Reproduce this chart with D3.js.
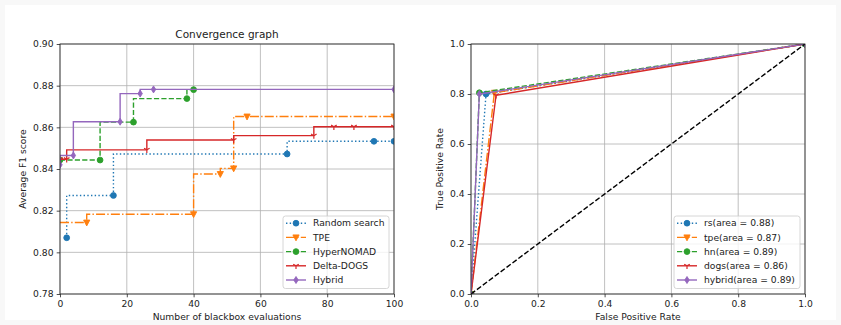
<!DOCTYPE html>
<html>
<head>
<meta charset="utf-8">
<script src="https://cdn.jsdelivr.net/npm/d3@7"></script>
<style>
  body { margin: 0; background: #f8f8f8; }
  svg { display: block; font-family: "DejaVu Sans", sans-serif; }
  .tick text { font-size: 9.2px; fill: #222; }
  .lbl { font-size: 9.2px; fill: #222; }
</style>
</head>
<body>
<div id="graf"></div>
<script>
// Convergence graph data (x = evaluations, y = average F1)
var rsX    = [2, 16, 68, 94, 100]
var rsY    = [0.807, 0.8273, 0.8472, 0.8533, 0.8533]
var tpeX   = [0, 8, 40, 48, 52, 56, 100]
var tpeY   = [0.8143, 0.8143, 0.8183, 0.8376, 0.8403, 0.8652, 0.8652]
var hnX    = [0, 12, 22, 38, 40]
var hnY    = [0.8443, 0.8443, 0.8625, 0.8738, 0.8781]
var dogsX  = [0, 2, 26, 52, 76, 82, 88, 100]
var dogsY  = [0.8447, 0.8447, 0.8492, 0.8539, 0.856, 0.8603, 0.8603, 0.8603]
var hybX   = [0, 4, 18, 24, 28, 100]
var hybY   = [0.8420, 0.8465, 0.8627, 0.8762, 0.8782, 0.8782]

// ROC data
var rocNames = ['rs', 'tpe', 'hn', 'dogs', 'hybrid']
var rocAreas = [0.88, 0.87, 0.89, 0.86, 0.89]
var rocFpr = [[0, 0.045, 1], [0, 0.07, 1], [0, 0.025, 1], [0, 0.075, 1], [0, 0.025, 1]]
var rocTpr = [[0, 0.80, 1], [0, 0.805, 1], [0, 0.805, 1], [0, 0.795, 1], [0, 0.80, 1]]

var convNames = ['Random search', 'TPE', 'HyperNOMAD', 'Delta-DOGS', 'Hybrid']
var convTicksX = [0, 20, 40, 60, 80, 100]
var convTicksY = [0.78, 0.80, 0.82, 0.84, 0.86, 0.88, 0.90]
var rocTicks = [0, 0.2, 0.4, 0.6, 0.8, 1.0]

// estilos de cada serie
var colores = ['#1f77b4', '#ff7f0e', '#2ca02c', '#d62728', '#9467bd']
var dashes  = ['1.4,2.3', '9,2.2,1.4,2.2', '5.2,2.2', null, null]
var marcas  = ['circle', 'tri', 'circle', 'y', 'diamond']

var series = [
  { x: rsX, y: rsY, markFirst: true },
  { x: tpeX, y: tpeY, markFirst: false },
  { x: hnX, y: hnY, markFirst: true },
  { x: dogsX, y: dogsY, markFirst: true },
  { x: hybX, y: hybY, markFirst: true }
]

var ancho_total = 841, alto_total = 325

var svg = d3.select('#graf').append('svg')
  .attr('width', ancho_total)
  .attr('height', alto_total)

svg.append('rect')
  .attr('x', 5).attr('y', 5)
  .attr('width', ancho_total - 10).attr('height', alto_total - 10)
  .attr('fill', 'white')

var defs = svg.append('defs')

function marker(g, tipo, cx, cy, color) {
  if (tipo === 'circle') {
    g.append('circle').attr('cx', cx).attr('cy', cy).attr('r', 2.9)
      .attr('fill', color).attr('stroke', color).attr('stroke-width', 0.9)
  } else if (tipo === 'tri') {
    var s = 3.1
    g.append('path')
      .attr('d', `M${cx - s},${cy - s * 0.8}L${cx + s},${cy - s * 0.8}L${cx},${cy + s * 1.1}Z`)
      .attr('fill', color).attr('stroke', color).attr('stroke-width', 0.9)
  } else if (tipo === 'y') {
    var r = 3.2
    g.append('path')
      .attr('d', `M${cx},${cy}L${cx},${cy + r}M${cx},${cy}L${cx - r * 0.87},${cy - r * 0.5}M${cx},${cy}L${cx + r * 0.87},${cy - r * 0.5}`)
      .attr('fill', 'none').attr('stroke', color).attr('stroke-width', 1.2)
  } else if (tipo === 'diamond') {
    g.append('path')
      .attr('d', `M${cx},${cy - 3.5}L${cx + 2.2},${cy}L${cx},${cy + 3.5}L${cx - 2.2},${cy}Z`)
      .attr('fill', color).attr('stroke', color).attr('stroke-width', 0.9)
  }
}

function ejes(id, x0, x1, y0, y1, x, y, ticksX, ticksY, fmtX, fmtY) {
  var g = svg.append('g')

  defs.append('clipPath').attr('id', id)
    .append('rect').attr('x', x0).attr('y', y0)
    .attr('width', x1 - x0).attr('height', y1 - y0)

  // grid
  g.selectAll('.gx').data(ticksX).enter().append('line')
    .attr('x1', d => x(d)).attr('x2', d => x(d))
    .attr('y1', y0).attr('y2', y1)
    .attr('stroke', '#b0b0b0').attr('stroke-width', 0.8)
  g.selectAll('.gy').data(ticksY).enter().append('line')
    .attr('x1', x0).attr('x2', x1)
    .attr('y1', d => y(d)).attr('y2', d => y(d))
    .attr('stroke', '#b0b0b0').attr('stroke-width', 0.8)

  var xAxis = svg.append('g')
    .attr('transform', `translate(0, ${y1})`)
    .call(d3.axisBottom(x).tickValues(ticksX).tickFormat(fmtX).tickSize(3.3).tickPadding(3.2))
  var yAxis = svg.append('g')
    .attr('transform', `translate(${x0}, 0)`)
    .call(d3.axisLeft(y).tickValues(ticksY).tickFormat(fmtY).tickSize(3.3).tickPadding(3.2))
  ;[xAxis, yAxis].forEach(a => {
    a.select('.domain').remove()
    a.selectAll('.tick line').attr('stroke', '#222').attr('stroke-width', 0.8)
    a.selectAll('text').attr('font-family', 'DejaVu Sans').attr('font-size', 9.2)
  })

  var plot = svg.append('g').attr('clip-path', `url(#${id})`)
  return plot
}

function marco(x0, x1, y0, y1) {
  svg.append('rect')
    .attr('x', x0).attr('y', y0)
    .attr('width', x1 - x0).attr('height', y1 - y0)
    .attr('fill', 'none').attr('stroke', '#222').attr('stroke-width', 0.8)
}

function leyenda(lx, ly, lw, nombres) {
  var lg = svg.append('g')
  lg.append('rect')
    .attr('x', lx).attr('y', ly).attr('width', lw).attr('height', 72.5)
    .attr('rx', 2.5)
    .attr('fill', 'white').attr('fill-opacity', 0.8)
    .attr('stroke', '#cccccc').attr('stroke-width', 0.8)
  nombres.forEach((n, i) => {
    var yy = ly + 7.2 + i * 14.2
    lg.append('line')
      .attr('x1', lx + 3).attr('x2', lx + 23)
      .attr('y1', yy).attr('y2', yy)
      .attr('stroke', colores[i]).attr('stroke-width', 1.4)
      .attr('stroke-dasharray', dashes[i])
    marker(lg, marcas[i], lx + 13, yy, colores[i])
    lg.append('text')
      .attr('class', 'lbl')
      .attr('x', lx + 30).attr('y', yy)
      .attr('dy', '0.35em')
      .text(n)
  })
}

// ---------- Convergence graph ----------
var L = { x0: 60, x1: 394, y0: 44, y1: 294 }
var x = d3.scaleLinear().domain([0, 100]).range([L.x0, L.x1])
var y = d3.scaleLinear().domain([0.78, 0.90]).range([L.y1, L.y0])

var plot1 = ejes('clipL', L.x0, L.x1, L.y0, L.y1, x, y, convTicksX, convTicksY,
  d3.format('d'), d3.format('.2f'))

var lineaStep = d3.line()
  .x(d => x(d[0]))
  .y(d => y(d[1]))
  .curve(d3.curveStepBefore)

series.forEach((s, i) => {
  var pts = s.x.map((v, j) => [v, s.y[j]])
  plot1.append('path')
    .attr('d', lineaStep(pts))
    .attr('fill', 'none')
    .attr('stroke', colores[i])
    .attr('stroke-width', 1.4)
    .attr('stroke-dasharray', dashes[i])
  pts.forEach((p, j) => {
    if (j === 0 && !s.markFirst) return
    marker(plot1, marcas[i], x(p[0]), y(p[1]), colores[i])
  })
})
marco(L.x0, L.x1, L.y0, L.y1)

svg.append('text')
  .attr('x', (L.x0 + L.x1) / 2).attr('y', 38)
  .attr('text-anchor', 'middle')
  .attr('font-size', 10.5)
  .attr('fill', '#222')
  .text('Convergence graph')
svg.append('text')
  .attr('class', 'lbl')
  .attr('x', (L.x0 + L.x1) / 2).attr('y', 320)
  .attr('text-anchor', 'middle')
  .text('Number of blackbox evaluations')
svg.append('text')
  .attr('class', 'lbl')
  .attr('transform', `translate(23, ${(L.y0 + L.y1) / 2}) rotate(-90)`)
  .attr('text-anchor', 'middle')
  .attr('dy', '0.35em')
  .text('Average F1 score')

leyenda(283, 216, 106, convNames)

// ---------- ROC ----------
var R = { x0: 471, x1: 805, y0: 44, y1: 294 }
var xr = d3.scaleLinear().domain([0, 1]).range([R.x0, R.x1])
var yr = d3.scaleLinear().domain([0, 1]).range([R.y1, R.y0])

var plot2 = ejes('clipR', R.x0, R.x1, R.y0, R.y1, xr, yr, rocTicks, rocTicks,
  d3.format('.1f'), d3.format('.1f'))

var lineaRoc = d3.line().x(d => xr(d[0])).y(d => yr(d[1]))

rocNames.forEach((n, i) => {
  var pts = rocFpr[i].map((v, j) => [v, rocTpr[i][j]])
  plot2.append('path')
    .attr('d', lineaRoc(pts))
    .attr('fill', 'none')
    .attr('stroke', colores[i])
    .attr('stroke-width', 1.4)
    .attr('stroke-dasharray', dashes[i])
  pts.forEach(p => marker(plot2, marcas[i], xr(p[0]), yr(p[1]), colores[i]))
})

// diagonal
plot2.append('path')
  .attr('d', lineaRoc([[0, 0], [1, 1]]))
  .attr('stroke', 'black')
  .attr('stroke-width', 1.4)
  .attr('stroke-dasharray', '5.2,2.2')
marco(R.x0, R.x1, R.y0, R.y1)

svg.append('text')
  .attr('class', 'lbl')
  .attr('x', (R.x0 + R.x1) / 2).attr('y', 320)
  .attr('text-anchor', 'middle')
  .text('False Positive Rate')
svg.append('text')
  .attr('class', 'lbl')
  .attr('transform', `translate(440, ${(R.y0 + R.y1) / 2}) rotate(-90)`)
  .attr('text-anchor', 'middle')
  .attr('dy', '0.35em')
  .text('True Positive Rate')

leyenda(674, 216, 126, rocNames.map((n, i) => `${n}(area = ${rocAreas[i].toFixed(2)})`))
</script>
</body>
</html>
